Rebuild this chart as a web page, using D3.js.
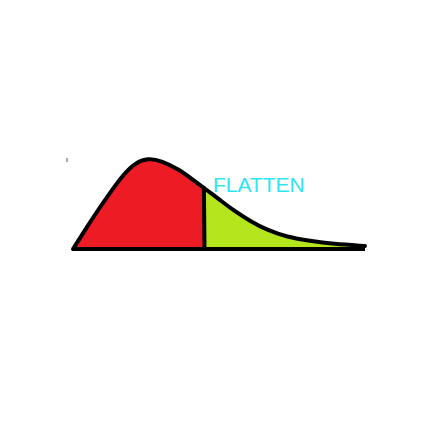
<!DOCTYPE html>
<html>
<head>
<meta charset="utf-8">
<script src="https://cdn.jsdelivr.net/npm/d3@7"></script>
<style>
  body { margin: 0; background: #fff; }
</style>
</head>
<body>
<div id="chart"></div>
<script>
// curve (x along axis, y height)
const xs = [0, 12, 25, 39, 50, 62, 75, 89, 105, 119, 131, 147, 160, 177, 194, 214, 237, 260, 292];
const ys = [0, 19, 39, 59, 74, 86, 91, 88, 80, 70, 61, 49, 39, 28, 19, 12, 8, 5, 3];
const split = 131;
const label = "FLATTEN";

const width = 432;
const height = 432;

const svg = d3.select("#chart")
  .append("svg")
  .attr("width", width)
  .attr("height", height);

const x = d3.scaleLinear().domain([0, 300]).range([73, 373]);
const y = d3.scaleLinear().domain([0, 100]).range([249, 149]);

const data = xs.map((d, i) => ({ x: d, y: ys[i] }));

const area = d3.area()
  .x(d => x(d.x))
  .y0(y(0))
  .y1(d => y(d.y))
  .curve(d3.curveBasis);

const line = d3.line()
  .x(d => x(d.x))
  .y(d => y(d.y))
  .curve(d3.curveBasis);

const defs = svg.append("defs");
defs.append("clipPath").attr("id", "left")
  .append("rect")
  .attr("x", 0).attr("y", 0)
  .attr("width", x(split)).attr("height", height);
defs.append("clipPath").attr("id", "right")
  .append("rect")
  .attr("x", x(split)).attr("y", 0)
  .attr("width", width - x(split)).attr("height", height);
defs.append("clipPath").attr("id", "under")
  .append("path")
  .datum(data)
  .attr("d", area);

svg.append("path")
  .datum(data)
  .attr("d", area)
  .attr("fill", "#ed1c24")
  .attr("clip-path", "url(#left)");

svg.append("path")
  .datum(data)
  .attr("d", area)
  .attr("fill", "#b5e61d")
  .attr("clip-path", "url(#right)");

// divider, clipped to the area under the curve
svg.append("line")
  .attr("x1", x(split) - 0.5).attr("x2", x(split) + 0.5)
  .attr("y1", y(100)).attr("y2", y(0))
  .attr("stroke", "#000")
  .attr("stroke-width", 4)
  .attr("clip-path", "url(#under)");

// outline
svg.append("path")
  .datum(data)
  .attr("d", line)
  .attr("fill", "none")
  .attr("stroke", "#000")
  .attr("stroke-width", 4)
  .attr("stroke-linejoin", "round")
  .attr("stroke-linecap", "round");

// baseline
svg.append("line")
  .attr("x1", x(0) - 1).attr("x2", x(xs[xs.length - 1]))
  .attr("y1", y(0)).attr("y2", y(0))
  .attr("stroke", "#000")
  .attr("stroke-width", 4);

// stray tick mark
svg.append("line")
  .attr("x1", 67).attr("x2", 67)
  .attr("y1", 158).attr("y2", 162)
  .attr("stroke", "#555")
  .attr("stroke-width", 1);

svg.append("text")
  .attr("x", 213)
  .attr("y", 192)
  .attr("font-family", "Liberation Sans, Arial, sans-serif")
  .attr("font-size", 21)
  .attr("fill", "#2ee6f2")
  .text(label);
</script>
</body>
</html>
